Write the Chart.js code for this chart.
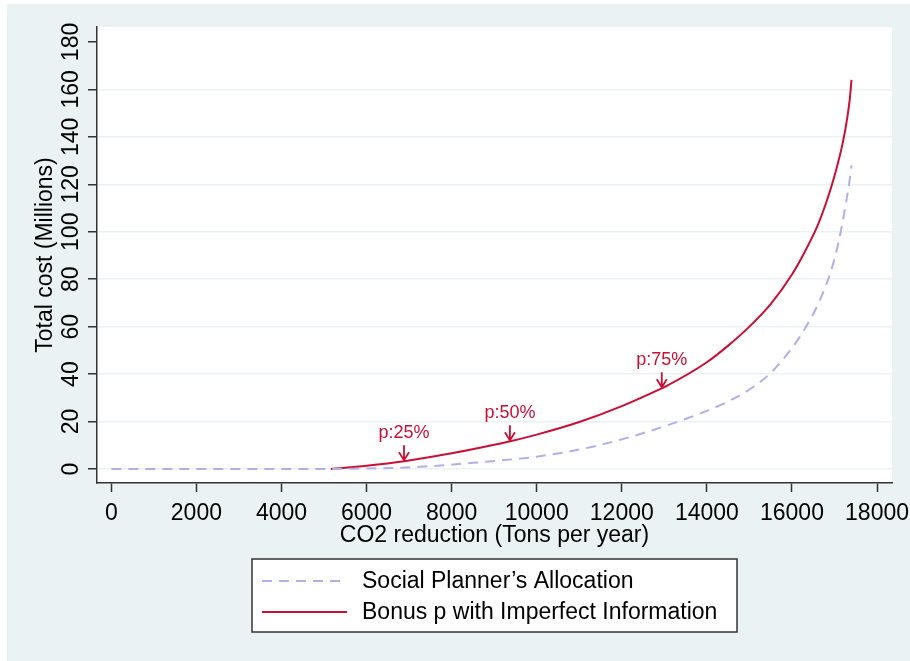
<!DOCTYPE html>
<html>
<head>
<meta charset="utf-8">
<script src="https://cdn.jsdelivr.net/npm/chart.js@4.4.1/dist/chart.umd.min.js"></script>
<style>
  body { margin: 0; background: #fff; }
  #frame { position: absolute; left: 7px; top: 4px; width: 903px; height: 657px; background: #eaf2f3; }
  #c { position: absolute; left: 0; top: 0; }
</style>
</head>
<body>
<div id="frame"></div>
<canvas id="c" width="910" height="661"></canvas>
<script>
'use strict';

// axis ticks
const xTicks = [0, 2000, 4000, 6000, 8000, 10000, 12000, 14000, 16000, 18000];
const yTicks = [0, 20, 40, 60, 80, 100, 120, 140, 160, 180];

// Social planner's allocation (tons/year, millions)
const plannerX = [0, 4500, 5500, 6500, 7500, 8500, 9500, 10000, 11000, 12000, 13000, 14000, 14500, 15000, 15500, 16000, 16300, 16600, 16900, 17100, 17250, 17350, 17400];
const plannerY = [0, 0, 0.1, 0.4, 1.2, 2.6, 4.2, 5.2, 8.2, 12.5, 18, 24.5, 28.5, 33.5, 40.5, 51, 59, 69, 82.5, 96, 110, 121, 128];

// Bonus p with imperfect information
const bonusX = [5160, 6000, 6880, 8000, 9000, 9370, 10000, 11000, 12000, 12940, 13000, 14000, 14500, 15000, 15500, 16000, 16300, 16600, 16800, 17000, 17200, 17300, 17360, 17400];
const bonusY = [0, 1.4, 3.3, 6.6, 10.2, 11.7, 14.5, 19.8, 26.5, 34, 34.5, 45, 52, 60, 69.5, 82, 91.5, 102.5, 112, 123.5, 138, 148, 156, 164];

// arrows marking p on the bonus curve
const noteLabels = ['p:25%', 'p:50%', 'p:75%'];
const noteX = [6880, 9370, 12940];
const noteY = [3.3, 11.7, 34];

const seriesNames = ['Social Planner\u2019s Allocation', 'Bonus p with Imperfect Information'];

const RED = '#c80f36';
const LAVENDER = '#b2afe6';
const GRID = '#eaf2f3';
const AXIS = '#333333';
const FONT = "'Liberation Sans', Arial, sans-serif";

function pairs(xs, ys) {
    return xs.map((x, i) => ({ x: x, y: ys[i] }));
}

const plotBackground = {
    id: 'plotBackground',
    beforeDraw(chart) {
        const { ctx, chartArea: a } = chart;
        ctx.save();
        ctx.fillStyle = '#ffffff';
        ctx.fillRect(a.left, a.top, a.right - a.left, a.bottom - a.top);
        ctx.restore();
    }
};

const arrowNotes = {
    id: 'arrowNotes',
    afterDatasetsDraw(chart) {
        const { ctx, scales } = chart;
        ctx.save();
        ctx.strokeStyle = RED;
        ctx.fillStyle = RED;
        ctx.lineWidth = 1.8;
        ctx.font = '18px ' + FONT;
        ctx.textAlign = 'center';
        ctx.textBaseline = 'alphabetic';
        noteLabels.forEach((label, i) => {
            const px = scales.x.getPixelForValue(noteX[i]);
            const py = scales.y.getPixelForValue(noteY[i]);
            ctx.beginPath();
            ctx.moveTo(px, py - 16);
            ctx.lineTo(px, py - 1);
            ctx.moveTo(px - 5, py - 9);
            ctx.lineTo(px, py - 1);
            ctx.lineTo(px + 5, py - 9);
            ctx.stroke();
            ctx.fillText(label, px, py - 23);
        });
        ctx.restore();
    }
};

const boxLegend = {
    id: 'boxLegend',
    afterDraw(chart) {
        const ctx = chart.ctx;
        const left = 252, top = 559, w = 485, h = 73;
        ctx.save();
        ctx.fillStyle = '#ffffff';
        ctx.fillRect(left, top, w, h);
        ctx.strokeStyle = AXIS;
        ctx.lineWidth = 1.5;
        ctx.strokeRect(left, top, w, h);
        ctx.font = '23px ' + FONT;
        ctx.textBaseline = 'middle';
        ctx.textAlign = 'left';
        chart.data.datasets.forEach((ds, i) => {
            const y = top + 22 + i * 31;
            ctx.beginPath();
            ctx.strokeStyle = ds.borderColor;
            ctx.lineWidth = ds.borderWidth;
            ctx.setLineDash(ds.borderDash || []);
            ctx.moveTo(262, y);
            ctx.lineTo(347, y);
            ctx.stroke();
            ctx.setLineDash([]);
            ctx.fillStyle = '#000000';
            ctx.fillText(ds.label, 362, y + 1);
        });
        ctx.restore();
    }
};

const chart = new Chart(document.getElementById('c'), {
    type: 'line',
    data: {
        datasets: [{
            label: seriesNames[0],
            data: pairs(plannerX, plannerY),
            borderColor: LAVENDER,
            borderWidth: 2,
            borderDash: [10, 7],
            pointRadius: 0,
            cubicInterpolationMode: 'monotone',
            fill: false
        }, {
            label: seriesNames[1],
            data: pairs(bonusX, bonusY),
            borderColor: RED,
            borderWidth: 2,
            pointRadius: 0,
            cubicInterpolationMode: 'monotone',
            fill: false
        }]
    },
    options: {
        responsive: false,
        animation: false,
        layout: { autoPadding: false, padding: { left: 0, top: 27, right: 18, bottom: 108 } },
        plugins: {
            legend: { display: false },
            tooltip: { enabled: false }
        },
        scales: {
            x: {
                type: 'linear',
                min: -337,
                max: 18352,
                afterFit: (scale) => {
                    scale.height = 70;
                    scale.paddingLeft = 0;
                    scale.paddingRight = 0;
                },
                afterBuildTicks: (scale) => { scale.ticks = xTicks.map(v => ({ value: v })); },
                border: { color: AXIS, width: 1.5 },
                grid: { drawOnChartArea: false, drawTicks: true, tickLength: 9, tickColor: AXIS, tickWidth: 1.5 },
                ticks: {
                    color: '#000',
                    padding: 8,
                    maxRotation: 0,
                    font: { family: FONT, size: 23, lineHeight: 1.2 },
                    callback: (v) => String(v)
                },
                title: {
                    display: true,
                    text: 'CO2 reduction (Tons per year)',
                    color: '#000',
                    font: { family: FONT, size: 23, lineHeight: 1.2 },
                    padding: { top: 0, bottom: 4 }
                }
            },
            y: {
                type: 'linear',
                min: -5.9,
                max: 186.3,
                afterFit: (scale) => {
                    scale.width = 97;
                    scale.paddingTop = 0;
                    scale.paddingBottom = 0;
                },
                afterBuildTicks: (scale) => { scale.ticks = yTicks.map(v => ({ value: v })); },
                border: { color: AXIS, width: 1.5 },
                grid: {
                    color: (c) => (c.tick && c.tick.value === 180 ? 'rgba(0,0,0,0)' : GRID),
                    lineWidth: 1.5,
                    drawTicks: true,
                    tickLength: 9,
                    tickColor: AXIS,
                    tickWidth: 1.5
                },
                ticks: {
                    color: '#000',
                    padding: -3,
                    minRotation: 90,
                    maxRotation: 90,
                    crossAlign: 'center',
                    font: { family: FONT, size: 23, lineHeight: 1.2 },
                    callback: (v) => String(v)
                },
                title: {
                    display: true,
                    text: 'Total cost (Millions)',
                    color: '#000',
                    font: { family: FONT, size: 23, lineHeight: 1.2 },
                    padding: { top: 32, bottom: 0 }
                }
            }
        }
    },
    plugins: [plotBackground, arrowNotes, boxLegend]
});
</script>
</body>
</html>
